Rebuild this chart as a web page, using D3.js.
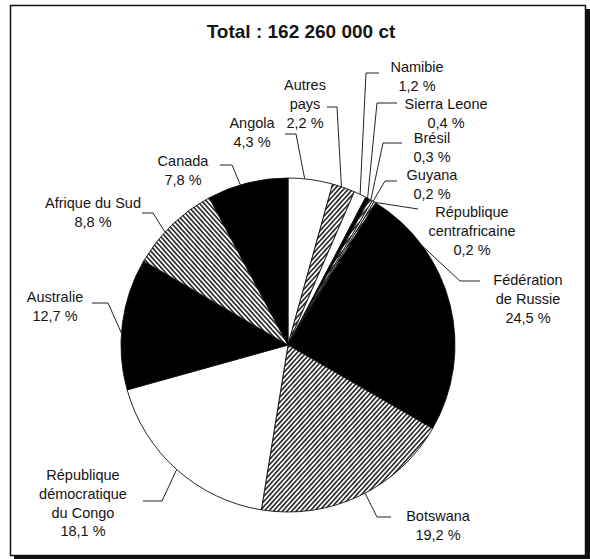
<!DOCTYPE html>
<html>
<head>
<meta charset="utf-8">
<script src="https://cdn.jsdelivr.net/npm/d3@7"></script>
<style>
  body { margin: 0; background: #fff; }
  svg text { font-family: Arial, "Liberation Sans", sans-serif; fill: #151515; }
</style>
</head>
<body>
<div id="chart"></div>
<script>
// data
const countries = ['Angola', 'Autres pays', 'Namibie', 'Sierra Leone', 'Brésil', 'Guyana',
  'République centrafricaine', 'Fédération de Russie', 'Botswana',
  'République démocratique du Congo', 'Australie', 'Afrique du Sud', 'Canada'];
const shares = [4.3, 2.2, 1.2, 0.4, 0.3, 0.2, 0.2, 24.5, 19.2, 18.1, 12.7, 8.8, 7.8];
const shareLabels = ['4,3 %', '2,2 %', '1,2 %', '0,4 %', '0,3 %', '0,2 %', '0,2 %',
  '24,5 %', '19,2 %', '18,1 %', '12,7 %', '8,8 %', '7,8 %'];
const nameLines = [['Angola'], ['Autres', 'pays'], ['Namibie'], ['Sierra Leone'], ['Brésil'],
  ['Guyana'], ['République', 'centrafricaine'], ['Fédération', 'de Russie'], ['Botswana'],
  ['République', 'démocratique', 'du Congo'], ['Australie'], ['Afrique du Sud'], ['Canada']];
const fills = ['white', 'hatchA', 'white', 'black', 'hatchA', 'white', 'hatchA',
  'black', 'hatchA', 'white', 'black', 'hatchB', 'black'];
const title = 'Total : 162 260 000 ct';

// label layout: text centre, first line y, leader elbow, horizontal end, anchor fraction on arc
const labelLayout = [
  { x: 252, y: 123, ex: 296, ey: 134, hx: 285, f: 0.37 },
  { x: 305, y: 85, ex: 337, ey: 107, hx: 327, f: 0.4 },
  { x: 417, y: 67, ex: 366, ey: 73, hx: 379, f: 0.5 },
  { x: 446, y: 104, ex: 377, ey: 103, hx: 397, f: 0.5 },
  { x: 432, y: 138, ex: 383, ey: 143, hx: 402, f: 0.5 },
  { x: 432, y: 175, ex: 385, ey: 181, hx: 397, f: 0.5 },
  { x: 472, y: 212, ex: 418, ey: 209, hx: 418, f: 0.5 },
  { x: 528, y: 280, ex: 460, ey: 281, hx: 480, f: 0.25 },
  { x: 438, y: 516, ex: 377, ey: 517, hx: 391, f: 0.47 },
  { x: 83, y: 475, ex: 162, ey: 501, hx: 143, f: 0.5 },
  { x: 55, y: 297, ex: 108, ey: 303, hx: 92, f: 0.43 },
  { x: 93, y: 203, ex: 153, ey: 213, hx: 142, f: 0.39 },
  { x: 183, y: 161, ex: 232, ey: 165, hx: 220, f: 0.41 }
];

const width = 590;
const height = 559;
const cx = 288;
const cy = 345;
const radius = 167;
const lineH = 18.8;

const svg = d3.select('#chart').append('svg')
  .attr('width', width)
  .attr('height', height);

const defs = svg.append('defs');

function hatch(id, angle) {
  const s = 3.4;
  const p = defs.append('pattern')
    .attr('id', id)
    .attr('patternUnits', 'userSpaceOnUse')
    .attr('width', s)
    .attr('height', s)
    .attr('patternTransform', `rotate(${angle})`);
  p.append('rect').attr('width', s).attr('height', s).attr('fill', 'white');
  p.append('line')
    .attr('x1', s / 2).attr('y1', 0).attr('x2', s / 2).attr('y2', s)
    .attr('stroke', '#151515').attr('stroke-width', 1.5);
}
hatch('hatchA', 42);
hatch('hatchB', -42);

// frame with shadow
svg.append('rect')
  .attr('x', 14).attr('y', 9)
  .attr('width', 576).attr('height', 550)
  .attr('fill', '#111');
svg.append('rect')
  .attr('x', 10.5).attr('y', 5.5)
  .attr('width', 575).attr('height', 550)
  .attr('fill', 'white')
  .attr('stroke', '#111')
  .attr('stroke-width', 1.5);

svg.append('text')
  .attr('x', 301)
  .attr('y', 38)
  .attr('text-anchor', 'middle')
  .attr('font-size', 19)
  .attr('font-weight', 'bold')
  .text(title);

const pie = d3.pie().sort(null).value(d => d)(shares);
const arc = d3.arc().innerRadius(0).outerRadius(radius);

const g = svg.append('g').attr('transform', `translate(${cx},${cy})`);

g.selectAll('path.slice')
  .data(pie)
  .join('path')
  .attr('class', 'slice')
  .attr('d', arc)
  .attr('fill', (d, i) => fills[i] === 'white' || fills[i] === 'black' ? fills[i] : `url(#${fills[i]})`)
  .attr('stroke', '#111')
  .attr('stroke-width', 0.9)
  .attr('stroke-linejoin', 'round');

// leader lines
svg.selectAll('path.leader')
  .data(pie)
  .join('path')
  .attr('class', 'leader')
  .attr('fill', 'none')
  .attr('stroke', '#222')
  .attr('stroke-width', 1)
  .attr('d', (d, i) => {
    const L = labelLayout[i];
    const a = d.startAngle + (d.endAngle - d.startAngle) * L.f;
    const px = cx + radius * Math.sin(a);
    const py = cy - radius * Math.cos(a);
    return `M${px},${py}L${L.ex},${L.ey}L${L.hx},${L.ey}`;
  });

// labels
const labels = svg.selectAll('text.label')
  .data(pie)
  .join('text')
  .attr('class', 'label')
  .attr('text-anchor', 'middle')
  .attr('font-size', 14.5);

labels.each(function(d, i) {
  const L = labelLayout[i];
  const lines = nameLines[i].concat([shareLabels[i]]);
  d3.select(this).selectAll('tspan')
    .data(lines)
    .join('tspan')
    .attr('x', L.x)
    .attr('y', (t, j) => L.y + 5 + j * lineH)
    .text(t => t);
});
</script>
</body>
</html>
